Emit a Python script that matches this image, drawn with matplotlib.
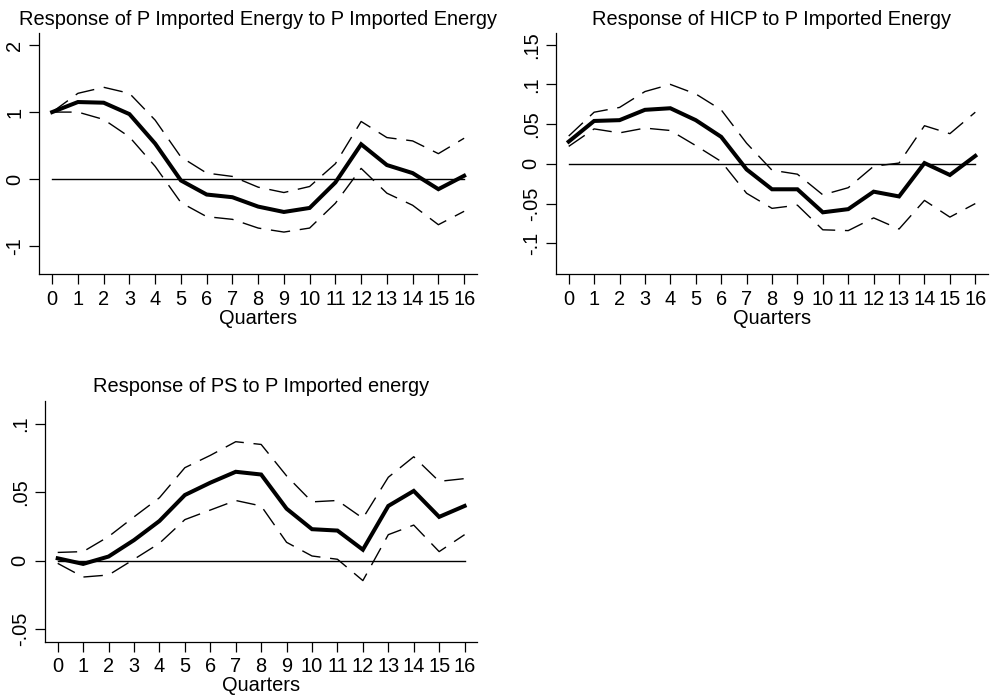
import matplotlib
matplotlib.use("Agg")
import matplotlib.pyplot as plt

plt.rcParams['font.family'] = ['Liberation Sans', 'DejaVu Sans']

quarters = list(range(17))

# Panel 1: Response of P Imported Energy to P Imported Energy
p1_mean = [1.0, 1.15, 1.14, 0.97, 0.53, -0.02, -0.23, -0.27, -0.41, -0.49, -0.43, -0.05, 0.52, 0.21, 0.09, -0.15, 0.05]
p1_upper = [1.0, 1.28, 1.37, 1.28, 0.88, 0.33, 0.09, 0.04, -0.12, -0.20, -0.11, 0.23, 0.86, 0.62, 0.57, 0.38, 0.61]
p1_lower = [1.0, 1.0, 0.89, 0.63, 0.19, -0.35, -0.56, -0.60, -0.73, -0.79, -0.73, -0.36, 0.16, -0.21, -0.39, -0.68, -0.48]

# Panel 2: Response of HICP to P Imported Energy
p2_mean = [0.028, 0.054, 0.055, 0.068, 0.070, 0.055, 0.034, -0.007, -0.032, -0.032, -0.061, -0.057, -0.035, -0.041, 0.001, -0.014, 0.010]
p2_upper = [0.035, 0.065, 0.071, 0.091, 0.100, 0.088, 0.068, 0.026, -0.008, -0.013, -0.039, -0.030, -0.003, 0.001, 0.048, 0.038, 0.065]
p2_lower = [0.022, 0.044, 0.039, 0.045, 0.042, 0.023, 0.003, -0.037, -0.056, -0.052, -0.083, -0.084, -0.068, -0.082, -0.046, -0.067, -0.050]

# Panel 3: Response of PS to P Imported energy
p3_mean = [0.0017, -0.0024, 0.003, 0.015, 0.029, 0.048, 0.057, 0.065, 0.063, 0.038, 0.023, 0.022, 0.008, 0.040, 0.051, 0.032, 0.040]
p3_upper = [0.006, 0.0066, 0.0176, 0.032, 0.046, 0.068, 0.077, 0.087, 0.085, 0.062, 0.043, 0.044, 0.031, 0.061, 0.076, 0.058, 0.060]
p3_lower = [-0.002, -0.012, -0.0105, 0.001, 0.0127, 0.030, 0.037, 0.044, 0.040, 0.0134, 0.0034, 0.001, -0.0146, 0.019, 0.026, 0.0066, 0.019]

titles = ["Response of P Imported Energy to P Imported Energy",
          "Response of HICP to P Imported Energy",
          "Response of PS to P Imported energy"]

p1_yticks = [-1, 0, 1, 2]
p1_ylabels = ["-1", "0", "1", "2"]
p2_yticks = [-0.1, -0.05, 0, 0.05, 0.1, 0.15]
p2_ylabels = ["-.1", "-.05", "0", ".05", ".1", ".15"]
p3_yticks = [-0.05, 0, 0.05, 0.1]
p3_ylabels = ["-.05", "0", ".05", ".1"]

fig = plt.figure(figsize=(9.92, 6.97), dpi=100)

W, H = 992, 697
def rect(l, t, r, b):
    return [l / W, (H - b) / H, (r - l) / W, (b - t) / H]

ax1 = fig.add_axes(rect(39.3, 33, 477, 274.3))
ax2 = fig.add_axes(rect(556, 33, 988, 274.3))
ax3 = fig.add_axes(rect(45, 400.7, 477.3, 641.7))

panels = [
    (ax1, p1_mean, p1_upper, p1_lower, titles[0], p1_yticks, p1_ylabels, (-1.42, 2.18)),
    (ax2, p2_mean, p2_upper, p2_lower, titles[1], p2_yticks, p2_ylabels, (-0.139, 0.1647)),
    (ax3, p3_mean, p3_upper, p3_lower, titles[2], p3_yticks, p3_ylabels, (-0.0593, 0.117)),
]

FS = 14.4
for ax, m, u, lo, t, yt, yl, ylim in panels:
    ax.plot(quarters, u, color='black', lw=1.0, dashes=(14, 7))
    ax.plot(quarters, lo, color='black', lw=1.0, dashes=(14, 7))
    ax.plot([quarters[0], quarters[-1]], [0, 0], color='black', lw=1.0)
    ax.plot(quarters, m, color='black', lw=2.9, solid_joinstyle='miter')
    ax.set_xlim(-0.5, 16.5)
    ax.set_ylim(*ylim)
    ax.set_xticks(quarters)
    ax.set_xticklabels([str(q) for q in quarters], fontsize=FS)
    ax.set_yticks(yt)
    ax.set_yticklabels(yl, fontsize=FS, rotation=90, va='center')
    ax.spines['top'].set_visible(False)
    ax.spines['right'].set_visible(False)
    ax.spines['left'].set_linewidth(0.9)
    ax.spines['bottom'].set_linewidth(0.9)
    ax.tick_params(direction='out', length=7, width=0.9, pad=4)
    ax.set_xlabel("Quarters", fontsize=FS, labelpad=0)
    ax.set_title(t, fontsize=FS, pad=6)

fig.savefig("out.png", dpi=100)
